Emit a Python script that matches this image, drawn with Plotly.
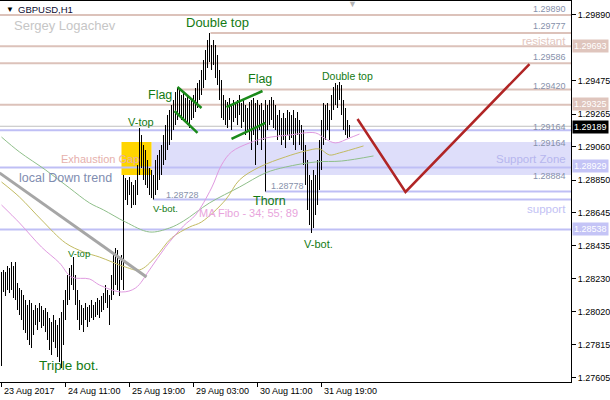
import plotly.graph_objects as go

# ---------------- data ----------------
highs = [
1.28271,1.28284,1.28271,1.28309,1.28296,1.28334,1.28309,1.28334,1.28202,1.28170,
1.28158,1.28126,1.28095,1.28063,1.28095,1.28076,1.28032,1.28063,1.28044,1.28076,
1.28057,1.28032,1.28044,1.28019,1.27981,1.27956,1.28000,1.27969,1.27937,1.27981,
1.28019,1.28095,1.28158,1.28252,1.28296,1.28315,1.28365,1.28252,1.28158,1.28095,
1.28063,1.28044,1.28076,1.28050,1.28063,1.28095,1.28063,1.28082,1.28107,1.28095,
1.28120,1.28139,1.28189,1.28158,1.28126,1.28252,1.28378,1.28422,1.28410,1.28347,
1.28378,1.28882,1.28863,1.28851,1.28869,1.28838,1.28819,1.28851,1.28945,1.29178,
1.29134,1.29071,1.29040,1.28977,1.28926,1.28914,1.28882,1.28977,1.29008,1.29040,
1.29071,1.29134,1.29197,1.29260,1.29292,1.29323,1.29355,1.29405,1.29430,1.29418,
1.29386,1.29399,1.29367,1.29386,1.29355,1.29367,1.29386,1.29430,1.29462,1.29481,
1.29544,1.29607,1.29670,1.29733,1.29777,1.29701,1.29733,1.29701,1.29638,1.29544,
1.29481,1.29386,1.29355,1.29342,1.29367,1.29323,1.29355,1.29336,1.29355,1.29386,
1.29336,1.29355,1.29323,1.29304,1.29342,1.29355,1.29367,1.29336,1.29355,1.29323,
1.29336,1.29292,1.29355,1.29323,1.29355,1.29373,1.29355,1.29323,1.29260,1.29292,
1.29241,1.29273,1.29241,1.29292,1.29279,1.29260,1.29292,1.29241,1.29279,1.29229,
1.29197,1.29166,1.29071,1.28977,1.28882,1.28851,1.28914,1.28882,1.28977,1.29103,
1.29229,1.29336,1.29323,1.29336,1.29292,1.29386,1.29436,1.29462,1.29449,1.29468,
1.29449,1.29355,1.29304,1.29229,1.29197]

lows = [
1.27679,1.28145,1.28120,1.28158,1.28139,1.28158,1.28107,1.28095,1.28032,1.28000,
1.27969,1.27906,1.27887,1.27843,1.27811,1.27792,1.27874,1.27937,1.27906,1.27956,
1.27918,1.27931,1.27893,1.27843,1.27780,1.27748,1.27830,1.27792,1.27735,1.27704,
1.27666,1.27811,1.27969,1.28063,1.28095,1.28189,1.28158,1.28063,1.27969,1.27906,
1.27937,1.27893,1.27969,1.27924,1.27956,1.27981,1.27969,1.27987,1.28000,1.27981,
1.28019,1.28032,1.28076,1.28044,1.27937,1.28095,1.28126,1.28189,1.28158,1.28120,
1.28221,1.28158,1.28725,1.28693,1.28756,1.28674,1.28693,1.28693,1.28756,1.28882,
1.28926,1.28851,1.28819,1.28800,1.28756,1.28737,1.28728,1.28756,1.28788,1.28851,
1.28882,1.28945,1.28977,1.29040,1.29071,1.29103,1.29166,1.29197,1.29229,1.29260,
1.29229,1.29241,1.29216,1.29197,1.29178,1.29229,1.29241,1.29279,1.29304,1.29355,
1.29386,1.29430,1.29481,1.29556,1.29594,1.29544,1.29575,1.29493,1.29449,1.29355,
1.29241,1.29229,1.29197,1.29178,1.29229,1.29166,1.29216,1.29241,1.29197,1.29260,
1.29178,1.29216,1.29134,1.29166,1.29103,1.29040,1.29134,1.28945,1.29071,1.29166,
1.29040,1.29103,1.28778,1.29166,1.29197,1.29229,1.29178,1.29166,1.29103,1.29134,
1.29071,1.29103,1.29052,1.29134,1.29103,1.29115,1.29071,1.29040,1.29134,1.29071,
1.29040,1.28945,1.28819,1.28662,1.28567,1.28517,1.28548,1.28630,1.28693,1.28788,
1.28914,1.29071,1.29103,1.29166,1.29103,1.29229,1.29292,1.29323,1.29304,1.29355,
1.29260,1.29166,1.29134,1.29115,1.29121]

bar_index = list(range(len(highs)))

# moving averages (MA Fibo 34; 55; 89), read at sparse bars
ma34_x = [0, 9, 20, 29, 35, 44, 49, 60, 67, 74, 82, 91, 97, 105, 110, 115, 124, 132, 144, 157, 162, 167, 174, 179]
ma34_y = [1.28693, 1.28580, 1.28428, 1.28328, 1.28239, 1.28227, 1.28189, 1.28145, 1.28170, 1.28284,
          1.28428, 1.28561, 1.28630, 1.28800, 1.28945, 1.29027, 1.29084, 1.29115, 1.29134, 1.29147,
          1.29109, 1.29084, 1.29115, 1.29140]
ma55_x = [0, 9, 20, 32, 41, 49, 62, 69, 77, 85, 94, 100, 112, 119, 129, 142, 152, 159, 164, 169, 181]
ma55_y = [1.28838, 1.28743, 1.28599, 1.28454, 1.28397, 1.28365, 1.28302, 1.28284, 1.28365, 1.28485,
          1.28554, 1.28586, 1.28725, 1.28851, 1.28932, 1.28996, 1.29033, 1.29046, 1.29008, 1.29021, 1.29065]
ma89_x = [0, 9, 22, 34, 44, 51, 62, 74, 84, 91, 104, 119, 132, 142, 157, 170, 186]
ma89_y = [1.29121, 1.29027, 1.28914, 1.28800, 1.28706, 1.28662, 1.28586, 1.28523, 1.28548, 1.28592,
          1.28706, 1.28806, 1.28895, 1.28932, 1.28964, 1.28970, 1.29002]

# drawn objects
trend_x = [-1, 72.5]
trend_y = [1.28895, 1.28240]
flag1_up_x, flag1_up_y = [88, 100], [1.29436, 1.29304]
flag1_lo_x, flag1_lo_y = [86.5, 98], [1.29285, 1.29147]
flag2_up_x, flag2_up_y = [112.5, 130.5], [1.29310, 1.29411]
flag2_lo_x, flag2_lo_y = [115, 132], [1.29109, 1.29210]
forecast_x = [178, 202, 264]
forecast_y = [1.29235, 1.28775, 1.29581]

rosy_levels = [1.29890, 1.29777, 1.29693, 1.29586, 1.29420, 1.29325]
rosy_start = [None, 104.5, None, None, 88, None]
blue_levels = [1.29164, 1.28929, 1.28778, 1.28728, 1.28538]
blue_start = [None, None, 132, 76, None]
current_price = 1.29189
zone_low, zone_high = 1.28882, 1.29090
gap_box_x = [60, 75]

y_tickvals = [1.29890, 1.29475, 1.29265, 1.29060, 1.28850, 1.28645, 1.28435, 1.28230, 1.28020, 1.27815, 1.27605]
x_tickvals = [0, 32, 64, 96, 128, 160]
x_ticktext = ["23 Aug 2017", "24 Aug 11:00", "25 Aug 19:00", "29 Aug 03:00", "30 Aug 11:00", "31 Aug 19:00"]

# ---------------- figure ----------------
W, H = 610, 400
ML, MR, MT, MB = 0, 39, 1, 18
PW, PH = W - ML - MR, H - MT - MB
X0 = -0.75
ARIAL = "Liberation Sans, Arial"

def fx(px):
    return (px - ML) / PW

def fy(py):
    return 1 - (py - MT) / PH

ROSY = "#dcc2ba"
BLUE = "#bfbff5"
GREEN = "#137a13"
LBLUE = "#8791ab"

fig = go.Figure()

# MAs
fig.add_trace(go.Scatter(x=ma89_x, y=ma89_y, mode="lines", line=dict(color="#8fbf8a", width=1, shape="spline")))
fig.add_trace(go.Scatter(x=ma55_x, y=ma55_y, mode="lines", line=dict(color="#c2bb62", width=1, shape="spline")))
fig.add_trace(go.Scatter(x=ma34_x, y=ma34_y, mode="lines", line=dict(color="#e09ae0", width=1, shape="spline")))

# price bars (high-low)
fig.add_trace(go.Bar(x=bar_index, y=[h - l for h, l in zip(highs, lows)], base=lows,
                     width=0.5, marker=dict(color="black", line=dict(width=0))))

# trend objects
fig.add_trace(go.Scatter(x=trend_x, y=trend_y, mode="lines", line=dict(color="#a6a6a6", width=3)))
for xs, ys in [(flag1_up_x, flag1_up_y), (flag1_lo_x, flag1_lo_y), (flag2_up_x, flag2_up_y), (flag2_lo_x, flag2_lo_y)]:
    fig.add_trace(go.Scatter(x=xs, y=ys, mode="lines", line=dict(color="#1a8a1a", width=2.5)))
fig.add_trace(go.Scatter(x=forecast_x, y=forecast_y, mode="lines", line=dict(color="#b02525", width=2.5)))

shapes = []
shapes.append(dict(type="rect", xref="x", yref="y", x0=gap_box_x[1], x1=300, y0=zone_low, y1=zone_high,
                   fillcolor="#dedefa", line=dict(width=0), layer="below"))
shapes.append(dict(type="rect", xref="x", yref="y", x0=gap_box_x[0], x1=gap_box_x[1], y0=zone_low, y1=zone_high,
                   fillcolor="#ffd500", line=dict(width=0), layer="below"))
for lv, st in zip(rosy_levels, rosy_start):
    shapes.append(dict(type="line", xref="x", yref="y", x0=-1 if st is None else st, x1=300, y0=lv, y1=lv,
                       line=dict(color=ROSY, width=2), layer="below"))
for lv, st in zip(blue_levels, blue_start):
    shapes.append(dict(type="line", xref="x", yref="y", x0=-1 if st is None else st, x1=300, y0=lv, y1=lv,
                       line=dict(color=BLUE, width=2), layer="below"))
shapes.append(dict(type="line", xref="x", yref="y", x0=-1, x1=300, y0=current_price, y1=current_price,
                   line=dict(color="#c0c0c0", width=1), layer="below"))

ann = []
def text(s, x, y, size, color, anchor="left"):
    ann.append(dict(text=s, x=fx(x), y=fy(y), xref="paper", yref="paper", showarrow=False,
                    xanchor=anchor, yanchor="middle", font=dict(size=size, color=color, family=ARIAL)))

text("▼", 4, 9, 8, "#000000")
text("GBPUSD,H1", 16, 9, 9.5, "#0c0c30")
text("Sergey Logachev", 12, 25, 13, "#c6c6c6")
text("Double top", 184, 22, 13, GREEN)
text("Flag", 146, 95, 12.5, GREEN)
text("Flag", 246, 79, 12.5, GREEN)
text("V-top", 126, 122, 11, GREEN)
text("Exhaustion Gap", 59, 159, 11, "#e6b0ac")
text("local Down trend", 17, 178, 12.5, "#7f8db0")
text("1.28728", 164, 195, 9, LBLUE)
text("V-bot.", 151, 208, 9.5, GREEN)
text("1.28778", 269, 186, 9, LBLUE)
text("Thorn", 251, 201, 12.5, GREEN)
text("MA Fibo - 34; 55; 89", 197, 213, 11, "#e8a4dc")
text("V-top", 66, 253, 9.5, GREEN)
text("V-bot.", 302, 244, 11, GREEN)
text("Triple bot.", 37, 365, 13.5, GREEN)
text("Double top", 320, 76, 10.5, GREEN)
text("▼", 352, 4, 9, "#b4b4b4", anchor="center")

for s, y, c in [("1.29890", 9, LBLUE), ("1.29777", 26, LBLUE), ("resistant", 41, "#e2c6be"),
                ("1.29586", 57, LBLUE), ("1.29420", 86, LBLUE), ("1.29164", 127, LBLUE),
                ("1.29164", 143, LBLUE), ("Support Zone", 159, "#b6b6ee"), ("1.28884", 176, LBLUE),
                ("support", 209, "#c2c2f4")]:
    size = 9 if s[0] == "1" else 11.5
    text(s, 568, y, size, c, anchor="right")

# axis boxes
for s, y, bg in [("1.29693", 46, "#dfc5bd"), ("1.29325", 104, "#dfc5bd"), ("1.29189", 127, "#000000"),
                 ("1.28929", 166, "#c4c4f6"), ("1.28538", 229, "#c4c4f6")]:
    ann.append(dict(text=s, x=fx(572), y=fy(y), xref="paper", yref="paper", showarrow=False,
                    xanchor="left", yanchor="middle", bgcolor=bg, borderpad=1,
                    font=dict(size=9, color="white", family=ARIAL)))

# bottom axis labels (left aligned to ticks)
for v, s in zip(x_tickvals, x_ticktext):
    ann.append(dict(text=s, x=v, y=fy(391), xref="x", yref="paper", showarrow=False,
                    xanchor="left", yanchor="middle", xshift=0,
                    font=dict(size=9, color="black", family=ARIAL)))

fig.update_layout(
    width=W, height=H, margin=dict(l=ML, r=MR, t=MT, b=MB, autoexpand=False),
    paper_bgcolor="white", plot_bgcolor="white", showlegend=False, hovermode=False,
    shapes=shapes, annotations=ann,
    xaxis=dict(range=[X0, X0 + PW / 2], showgrid=False, zeroline=False, showline=True, mirror=True,
               linecolor="black", linewidth=1, ticks="outside", ticklen=4, tickcolor="black",
               tickvals=x_tickvals, showticklabels=False),
    yaxis=dict(range=[1.27578, 1.29978], side="right", showgrid=False, zeroline=False,
               showline=True, linecolor="black", linewidth=1, ticks="outside", ticklen=4,
               tickcolor="black", tickvals=y_tickvals, ticktext=[f"{v:.5f}" for v in y_tickvals],
               tickfont=dict(size=9, color="black", family=ARIAL)),
)

fig.write_html("out.html", config={"displayModeBar": False},
               post_script="document.body.style.margin='0';document.body.style.overflow='hidden';")
